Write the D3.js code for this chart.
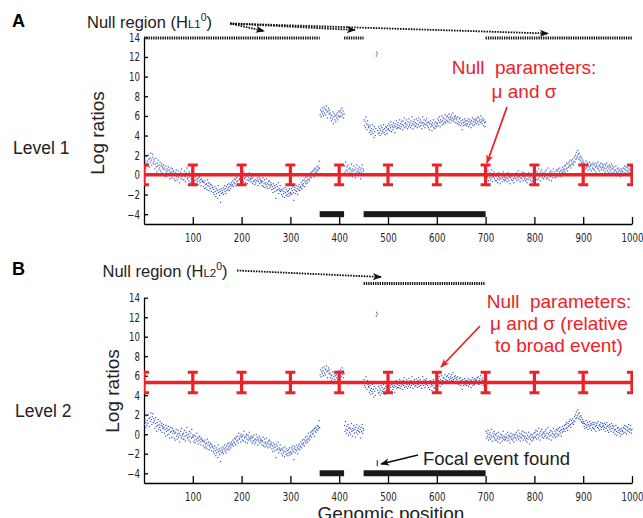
<!DOCTYPE html>
<html>
<head>
<meta charset="utf-8">
<script src="https://cdnjs.cloudflare.com/ajax/libs/d3/7.8.5/d3.min.js"></script>
<style>
  body { margin: 0; background: #fff; }
  svg { display: block; }
  text { font-family: "Liberation Sans", Arial, Helvetica, sans-serif; }
  .axis path, .axis line { stroke: #000; stroke-width: 1.3; }
  .axis text { font-family: "Liberation Sans Narrow", "DejaVu Sans Condensed", sans-serif; font-size: 12px; fill: #222; }
</style>
</head>
<body>
<script>
// log ratio per probe, genomic positions 1..1000 (same probes in both levels)
const logRatios = [
  1.0,1.5,0.7,1.2,1.9,0.9,1.4,1.1,2.0,1.6,0.8,1.7,1.3,2.2,1.5,1.0,1.8,2.1,1.2,1.6,
  1.4,0.6,1.1,1.7,0.8,0.3,1.2,0.9,1.5,0.5,1.0,0.7,1.3,0.4,0.9,1.1,0.2,0.8,0.6,1.0,
  0.7,0.1,0.5,-0.2,0.9,0.3,0.6,-0.1,0.4,0.8,0.0,0.5,-0.4,0.2,0.7,0.3,-0.3,0.6,0.1,0.4,
  0.3,-0.4,0.1,-0.6,0.2,0.5,-0.2,-0.5,0.0,0.4,-0.3,0.1,-0.8,-0.1,0.3,-0.4,0.6,-0.2,0.0,-0.5,
  0.1,-0.5,0.4,-0.2,-0.7,0.2,-0.1,0.7,-0.4,-0.3,0.0,-0.6,0.3,-0.2,-0.8,0.1,-0.4,0.5,-0.3,-0.1,
  -0.3,-0.8,-0.1,-0.6,-0.9,-0.2,-0.5,0.1,-0.7,-0.4,-1.0,-0.3,-0.6,-0.2,-0.8,-0.5,-1.1,-0.4,-0.7,-0.6,
  -0.7,-1.2,-0.8,-1.4,-0.6,-1.0,-1.3,-0.9,-1.5,-0.5,-1.1,-0.8,-1.6,-1.2,-0.9,-1.4,-1.0,-1.7,-1.1,-1.3,
  -1.3,-1.8,-1.5,-2.0,-1.2,-1.7,-2.2,-1.4,-1.9,-1.6,-2.4,-1.1,-1.8,-1.5,-2.1,-1.7,-2.8,-1.4,-1.9,-1.6,
  -1.8,-1.3,-2.0,-1.5,-1.1,-1.7,-1.4,-1.9,-1.2,-1.6,-1.0,-1.5,-1.3,-0.9,-1.6,-1.2,-1.0,-1.4,-0.8,-1.1,
  -1.0,-0.6,-1.2,-0.8,-0.4,-0.9,-0.5,-1.1,-0.3,-0.7,-0.2,-0.6,-0.9,0.1,-0.4,-0.5,-0.2,-0.8,0.0,-0.3,
  -0.2,-0.6,-0.1,-0.7,0.3,-0.4,-0.3,-0.8,-0.2,0.0,-0.5,-0.9,-0.1,-0.6,-0.3,0.2,-0.5,-0.4,-0.7,-0.2,
  -0.4,-0.9,-0.3,-0.7,-0.1,-0.6,-1.0,-0.5,-0.8,0.0,-0.6,-0.3,-1.1,-0.5,-0.7,-0.2,-0.9,-0.4,-0.6,-0.8,
  -0.6,-1.1,-0.7,-0.3,-1.2,-0.9,-0.5,-1.3,-0.8,-1.0,-0.4,-1.2,-0.9,-1.4,-0.7,-1.0,-0.6,-1.3,-1.1,-0.8,
  -1.0,-1.5,-1.2,-1.8,-0.9,-1.4,-1.1,-1.7,-1.3,-2.4,-1.0,-1.6,-1.2,-1.5,-0.8,-1.9,-1.4,-1.6,-1.1,-1.7,
  -1.5,-2.0,-1.6,-2.2,-1.4,-1.9,-1.7,-2.3,-1.3,-1.8,-2.1,-1.5,-2.0,-1.7,-2.2,-1.6,-1.9,-1.4,-2.1,-1.8,
  -1.9,-1.4,-2.0,-1.6,-1.2,-1.8,-2.6,-1.5,-1.3,-1.9,-1.6,-1.1,-1.7,-1.4,-2.0,-1.2,-1.5,-1.0,-1.6,-1.3,
  -1.2,-0.8,-1.4,-1.0,-0.6,-1.1,-0.9,-0.5,-1.2,-0.7,-0.3,-0.9,-0.6,-0.2,-0.8,-0.5,0.1,-0.4,-0.6,-0.2,
  -0.1,0.2,-0.3,0.3,0.0,0.4,0.1,0.5,-0.2,0.6,0.3,0.7,0.2,0.5,0.9,0.4,0.8,0.6,1.4,0.7,
  6.1,6.6,5.9,6.4,6.8,6.2,6.5,6.0,6.9,6.3,6.7,6.1,6.6,7.0,6.4,5.8,6.5,6.8,6.2,6.6,
  6.3,5.8,6.1,5.5,6.0,5.7,6.4,5.2,5.9,6.2,5.6,6.0,5.4,6.1,5.8,6.3,5.6,6.0,6.5,5.9,
  6.4,6.0,6.6,5.9,6.3,6.8,6.1,6.5,5.8,6.2,0.9,0.3,1.3,0.5,0.1,0.8,0.4,1.0,-0.1,0.6,
  0.2,0.7,0.0,0.5,1.1,0.3,-0.2,0.6,0.4,0.9,0.1,0.5,-0.3,0.7,0.2,1.0,0.4,0.0,0.6,0.3,
  0.8,0.2,0.5,-0.4,0.7,0.3,1.0,0.1,0.6,0.4,5.6,5.0,5.4,4.8,5.9,5.2,4.6,5.5,5.1,4.9,
  4.8,4.3,5.0,4.5,4.1,4.7,4.4,5.1,4.2,4.6,3.8,4.9,4.4,4.0,4.7,12.1,12.5,12.3,4.5,4.2,
  4.9,4.3,4.7,4.0,4.5,5.0,4.2,4.8,4.4,4.6,5.1,4.3,4.7,4.1,4.9,4.5,4.8,4.2,5.0,4.6,
  4.7,5.2,4.5,5.0,4.8,5.4,4.4,5.1,4.9,4.6,5.3,4.8,5.0,4.3,5.2,4.9,5.5,4.7,5.1,4.8,
  5.3,4.8,5.0,5.6,4.7,5.2,4.9,5.4,5.1,4.6,5.5,5.0,5.8,4.8,5.2,5.3,4.9,5.6,5.1,4.7,
  5.4,4.9,5.7,5.1,5.3,4.8,5.5,5.0,5.9,5.2,4.7,5.4,5.1,5.6,4.9,5.3,5.0,5.7,5.2,4.8,
  5.5,5.1,5.8,4.9,5.3,5.6,5.0,5.4,4.7,5.2,5.9,5.3,5.0,5.6,5.2,4.8,5.5,5.1,5.7,5.3,
  5.0,5.4,4.8,5.3,4.6,5.2,5.5,4.9,5.1,4.5,5.3,5.0,5.6,4.8,5.2,4.7,5.4,5.0,4.9,5.3,
  5.2,5.7,5.0,5.5,5.9,5.3,4.9,5.6,5.4,6.0,5.1,5.5,5.8,5.2,5.7,5.4,6.1,5.3,5.6,5.9,
  5.5,6.0,5.4,5.8,6.2,5.6,5.3,5.9,5.7,6.1,5.5,5.8,6.3,5.6,5.4,5.9,5.7,6.0,5.3,5.8,
  5.6,5.2,5.9,5.4,5.1,5.7,5.3,5.8,5.0,5.5,5.2,4.6,5.6,5.3,5.0,5.4,5.7,5.1,5.5,5.2,
  5.0,5.5,5.2,5.7,4.9,5.4,5.1,5.6,5.3,4.8,5.5,5.2,5.8,5.0,5.4,5.6,5.1,5.7,5.3,5.5,
  5.6,5.2,5.8,5.4,5.9,5.1,5.5,5.7,5.3,6.0,5.4,5.6,5.2,5.8,5.5,5.0,5.6,5.3,4.9,5.4,
  0.3,-0.4,0.1,-0.2,0.4,-0.6,0.0,-0.3,0.2,-0.5,-0.1,0.5,-0.3,-0.7,0.1,-0.2,0.3,-0.4,0.0,-0.6,
  -0.1,-0.6,0.1,-0.4,-0.8,-0.2,0.2,-0.5,-0.3,-0.9,0.0,-0.4,-0.1,-0.7,-0.3,0.3,-0.5,-0.2,-0.6,-0.3,
  -0.5,0.0,-0.3,-0.7,0.2,-0.4,-0.1,-0.6,-0.2,-0.9,-0.3,0.1,-0.5,-0.2,-0.6,0.0,-0.4,-0.8,-0.1,-0.3,
  0.0,-0.4,0.2,-0.6,-0.1,-0.3,0.4,-0.5,-0.2,0.1,-0.7,-0.3,0.0,-0.4,0.3,-0.1,-0.6,-0.2,0.2,-0.4,
  -0.2,-0.6,0.1,-0.4,-0.8,-0.1,-0.5,0.2,-0.3,-1.0,-0.2,-0.5,0.0,-0.7,-0.3,-0.1,-0.6,-0.4,0.1,-0.3,
  0.2,-0.3,0.4,-0.1,-0.5,0.3,0.0,-0.4,0.6,-0.2,0.1,-0.6,0.3,-0.1,0.5,-0.3,0.0,0.2,-0.4,0.1,
  -0.2,0.3,-0.1,0.5,-0.4,0.1,-0.3,0.7,0.0,-0.5,0.2,-0.2,0.4,-0.1,-0.6,0.3,0.1,-0.3,0.6,0.0,
  -0.1,0.3,-0.3,0.1,0.5,-0.2,0.4,0.0,0.6,-0.1,0.3,0.7,0.1,0.4,-0.2,0.5,0.2,0.8,0.3,0.6,
  0.5,0.9,0.3,1.0,0.6,1.2,0.7,0.4,1.1,0.8,1.3,0.9,1.5,1.0,0.7,1.4,1.1,1.6,1.2,1.0,
  1.4,1.8,1.3,2.0,1.6,2.3,1.7,1.9,2.5,2.1,1.6,2.2,1.8,1.5,1.9,1.3,1.7,1.2,1.5,1.1,
  1.3,0.8,1.1,0.6,1.0,1.4,0.7,0.9,1.2,0.5,1.0,0.8,1.3,0.6,0.9,1.1,0.4,1.0,0.7,1.2,
  0.6,1.0,0.5,1.2,0.8,0.3,0.9,1.1,0.7,1.3,0.6,0.9,0.4,1.0,0.8,1.2,0.5,0.7,1.1,0.8,
  0.9,0.5,1.1,0.7,0.3,1.0,0.6,1.2,0.8,0.4,0.9,0.2,0.7,1.0,0.5,0.8,0.3,1.1,0.6,0.9,
  0.6,0.2,0.8,0.4,0.0,0.5,0.9,0.3,-0.1,0.6,0.2,0.7,0.4,0.1,0.5,-0.2,0.3,0.6,0.0,0.4,
  0.3,0.7,0.1,0.6,0.9,0.2,0.5,0.8,0.0,0.4,0.7,0.3,1.0,0.5,0.2,0.6,0.9,0.4,0.1,0.5
];

const xTicks = [100, 200, 300, 400, 500, 600, 700, 800, 900, 1000];
const yTicks = [-4, -2, 0, 2, 4, 6, 8, 10, 12, 14];
const barPositions = [0, 100, 200, 300, 400, 500, 600, 700, 800, 900, 1000];
const broadEvents = [[360, 410], [450, 700]];
const nullRegionsL1 = [[0, 360], [410, 450], [700, 1000]];
const nullRegionsL2 = [[450, 700]];
const nullMu = [0, 5.3];
const nullSigma = [1.0, 1.05];
const focalEvent = 478;

const red = "#ec2228";
const blue = "#3355bb";

const svg = d3.select("body").append("svg")
  .attr("width", 643)
  .attr("height", 518);

const defs = svg.append("defs");
function marker(id, color) {
  defs.append("marker")
    .attr("id", id)
    .attr("markerUnits", "userSpaceOnUse")
    .attr("viewBox", "0 -5 10 10")
    .attr("refX", 9).attr("refY", 0)
    .attr("markerWidth", 10).attr("markerHeight", 9)
    .attr("orient", "auto")
    .append("path")
    .attr("d", "M0,-4L10,0L0,4L2.5,0Z")
    .attr("fill", color);
}
marker("arrowBlack", "#111");
marker("arrowRed", red);

const x = d3.scaleLinear().domain([0, 1000]).range([144, 632]);

function drawPanel(p) {
  const y = d3.scaleLinear().domain([-5, 14]).range([p.bottom, p.top]);
  const g = svg.append("g");

  g.append("clipPath").attr("id", "clip" + p.id)
    .append("rect")
    .attr("x", x(0)).attr("y", p.top - 5)
    .attr("width", x(1000) - x(0) + 1).attr("height", p.bottom - p.top + 5);

  // axes
  const ya = g.append("g").attr("class", "axis")
    .attr("transform", "translate(" + x(0) + ",0)")
    .call(d3.axisLeft(y).tickValues(yTicks).tickSize(-4).tickSizeOuter(0).tickPadding(5));
  ya.selectAll("text").attr("transform", "scale(0.8,1)");

  const xa = g.append("g").attr("class", "axis")
    .attr("transform", "translate(0," + p.bottom + ")")
    .call(d3.axisBottom(x).tickValues(xTicks).tickFormat(d3.format("d"))
      .tickSize(-7).tickSizeOuter(0).tickPadding(9));
  xa.selectAll("text").attr("transform", "scale(0.8,1)");

  // probes
  g.append("g").selectAll("rect")
    .data(logRatios)
    .join("rect")
    .attr("x", (d, i) => x(i + 1) - 0.6)
    .attr("y", d => y(d) - 0.6)
    .attr("width", 1.2)
    .attr("height", 1.2)
    .attr("fill", blue);

  // null parameters
  const mu = nullMu[p.id], s = nullSigma[p.id];
  const r = g.append("g").attr("clip-path", "url(#clip" + p.id + ")")
    .attr("stroke", red).attr("fill", "none");
  r.append("line")
    .attr("x1", x(0)).attr("x2", x(1000))
    .attr("y1", y(mu)).attr("y2", y(mu))
    .attr("stroke-width", 3.5);
  const eb = r.selectAll("g.eb").data(barPositions).join("g").attr("class", "eb");
  eb.append("line")
    .attr("x1", d => x(d)).attr("x2", d => x(d))
    .attr("y1", y(mu - s)).attr("y2", y(mu + s))
    .attr("stroke-width", 3.2);
  [mu - s, mu + s].forEach(v => {
    eb.append("line")
      .attr("x1", d => x(d) - 5).attr("x2", d => x(d) + 5)
      .attr("y1", y(v)).attr("y2", y(v))
      .attr("stroke-width", 3);
  });

  // broad events
  g.append("g").selectAll("rect")
    .data(broadEvents)
    .join("rect")
    .attr("x", d => x(d[0]))
    .attr("width", d => x(d[1]) - x(d[0]))
    .attr("y", y(-4) - 3)
    .attr("height", 6)
    .attr("fill", "#1a1a1a");

  // null regions
  g.append("g").selectAll("line")
    .data(p.nullRegions)
    .join("line")
    .attr("x1", d => x(d[0])).attr("x2", d => x(d[1]))
    .attr("y1", p.nullY).attr("y2", p.nullY)
    .attr("stroke", "#111")
    .attr("stroke-width", 3)
    .attr("stroke-dasharray", "1.3,1");

  // labels
  svg.append("text").attr("x", 12).attr("y", p.letterY)
    .attr("font-size", 18).attr("font-weight", "bold").text(p.letter);
  svg.append("text").attr("x", p.levelX).attr("y", p.levelY)
    .attr("font-size", 17.5).attr("fill", "#222").text(p.level);
  svg.append("text")
    .attr("transform", "translate(" + p.ylabX + "," + p.ylabY + ") rotate(-90)")
    .attr("text-anchor", "middle").attr("font-size", 19).attr("fill", "#222")
    .text("Log ratios");

  const t = svg.append("text").attr("x", p.nullTextX).attr("y", p.nullTextY)
    .attr("font-size", 16.5).attr("fill", "#222");
  t.append("tspan").text("Null region (H");
  t.append("tspan").attr("font-size", 11.5).text(p.sub);
  t.append("tspan").attr("font-size", 10.5).attr("dy", -7).text("0");
  t.append("tspan").attr("dy", 7).text(")");

  p.nullArrows.forEach(a => {
    svg.append("line")
      .attr("x1", a[0]).attr("y1", a[1]).attr("x2", a[2]).attr("y2", a[3])
      .attr("stroke", "#111").attr("stroke-width", 1.8)
      .attr("stroke-dasharray", "1.6,1.1")
      .attr("marker-end", "url(#arrowBlack)");
  });

  const rt = svg.append("text").attr("text-anchor", "middle")
    .attr("font-size", 19).attr("fill", red);
  p.redLines.forEach((l, i) => {
    rt.append("tspan").attr("x", p.redX).attr("y", p.redY + i * p.redStep).text(l);
  });
  svg.append("line")
    .attr("x1", p.redArrow[0]).attr("y1", p.redArrow[1])
    .attr("x2", p.redArrow[2]).attr("y2", p.redArrow[3])
    .attr("stroke", red).attr("stroke-width", 1.8)
    .attr("marker-end", "url(#arrowRed)");

  return y;
}

drawPanel({
  id: 0, top: 37.3, bottom: 224, letter: "A", letterY: 26.5,
  level: "Level 1", levelX: 13, levelY: 153.5, ylabX: 104, ylabY: 133,
  nullRegions: nullRegionsL1, nullY: 38,
  nullTextX: 87, nullTextY: 28, sub: "L1",
  nullArrows: [[230, 23.5, 264, 31], [230, 23.5, 355, 30], [230, 23.5, 548, 33.5]],
  redLines: ["Null\u00a0 parameters:", "\u03bc and \u03c3"],
  redX: 524, redY: 74, redStep: 23.5, redArrow: [507, 107, 487, 163]
});

const yB = drawPanel({
  id: 1, top: 297.7, bottom: 483, letter: "B", letterY: 275,
  level: "Level 2", levelX: 15, levelY: 417, ylabX: 119, ylabY: 391,
  nullRegions: nullRegionsL2, nullY: 283.5,
  nullTextX: 102.5, nullTextY: 277, sub: "L2",
  nullArrows: [[237, 270.5, 381, 277]],
  redLines: ["Null\u00a0 parameters:", "\u03bc and \u03c3 (relative", "to broad event)"],
  redX: 559, redY: 308, redStep: 22, redArrow: [480, 326, 441, 367]
});

// focal event in level 2
svg.append("line")
  .attr("x1", x(focalEvent)).attr("x2", x(focalEvent))
  .attr("y1", yB(-4) - 13).attr("y2", yB(-4) - 7)
  .attr("stroke", "#111").attr("stroke-width", 1);
svg.append("line")
  .attr("x1", 418).attr("y1", 455).attr("x2", 381).attr("y2", 464)
  .attr("stroke", "#111").attr("stroke-width", 1.8)
  .attr("marker-end", "url(#arrowBlack)");
svg.append("text").attr("x", 423).attr("y", 465)
  .attr("font-size", 18.5).attr("fill", "#222").text("Focal event found");

svg.append("text").attr("x", 391).attr("y", 520)
  .attr("text-anchor", "middle").attr("font-size", 19).attr("fill", "#222")
  .text("Genomic position");
</script>
</body>
</html>
